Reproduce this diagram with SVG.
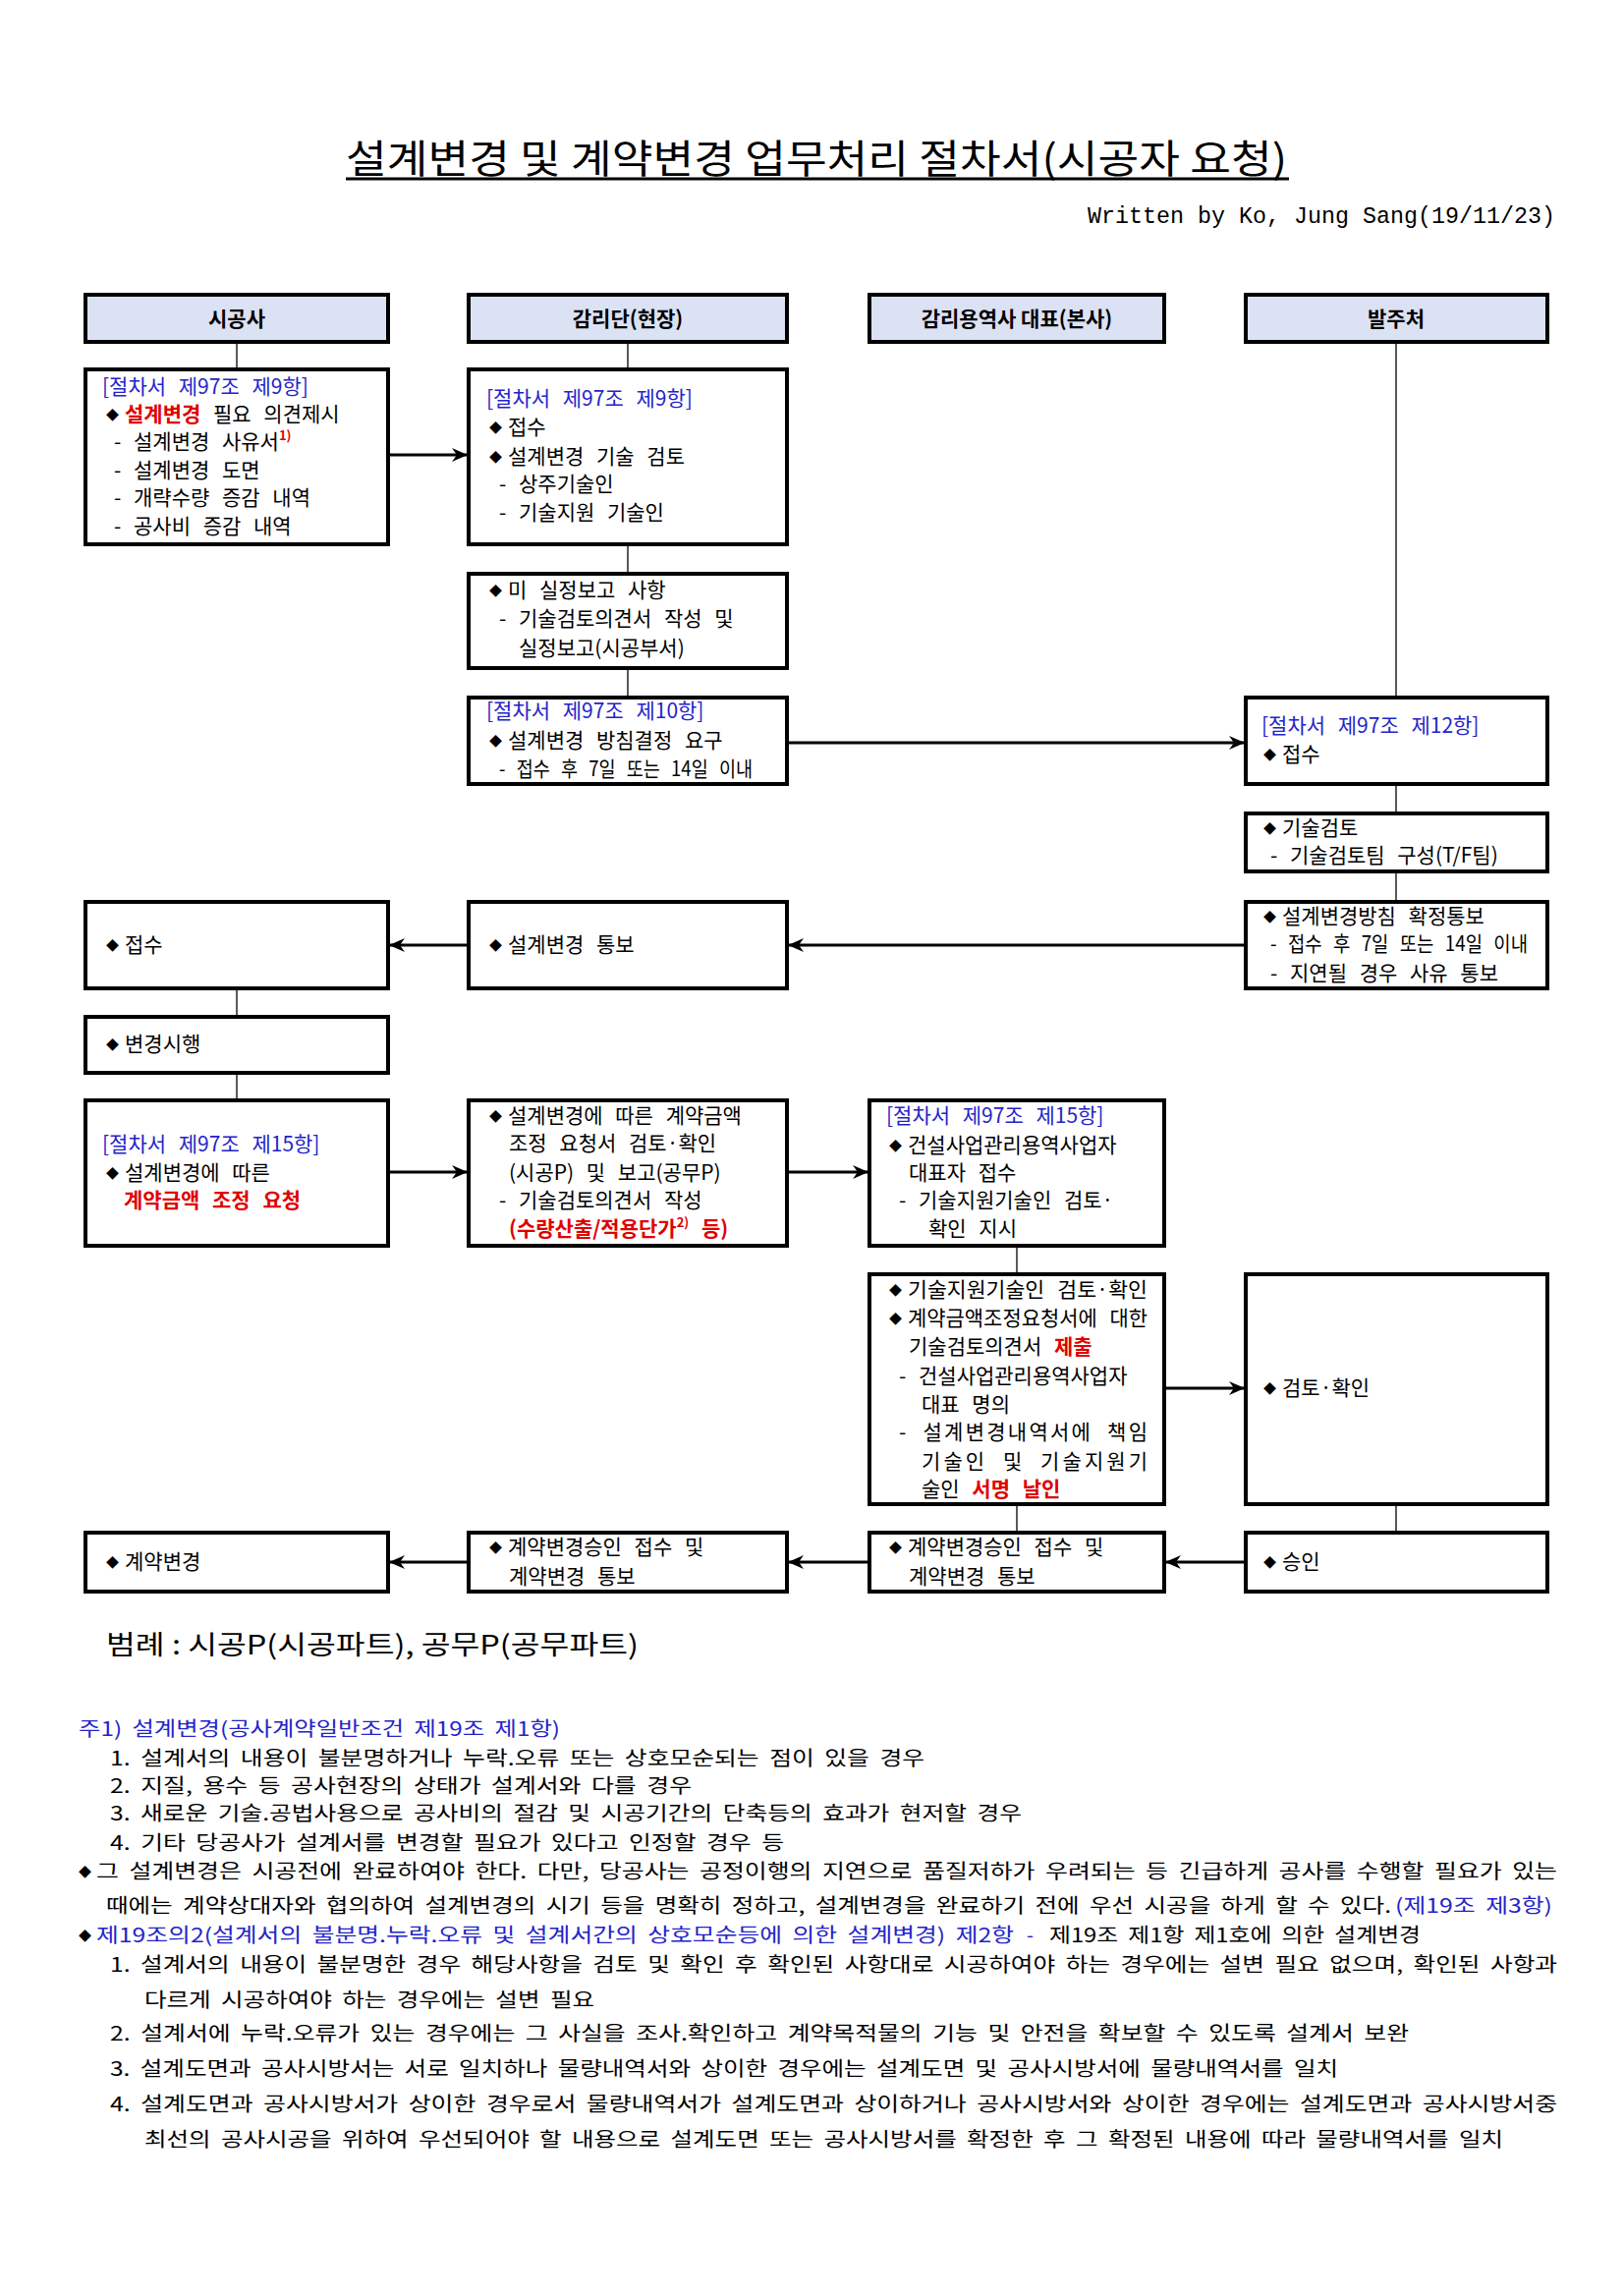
<svg xmlns="http://www.w3.org/2000/svg" width="1653" height="2337" viewBox="0 0 1653 2337">
<defs>
<marker id="ah" viewBox="0 0 16 16" refX="15" refY="8" markerWidth="16" markerHeight="16" markerUnits="userSpaceOnUse" orient="auto">
<path d="M0,1 L16,8 L0,15 L5,8 Z" fill="#000"/>
</marker>
<style>
text{font-family:"Noto Sans CJK KR","Noto Sans",sans-serif;fill:#000}
.t{font-size:21px;word-spacing:8px}
.h{font-size:21px;font-weight:bold;text-anchor:middle}
.n{font-size:20px;word-spacing:4px}
.bl{fill:#2424c8}
.rd{fill:#e00000;font-weight:bold}
.bu{font-size:13px}
.box{fill:#fff;stroke:#000;stroke-width:4}
.hd{fill:#dbe2f4;stroke:#000;stroke-width:4}
.vl{stroke:#000;stroke-width:1.3;fill:none}
.ar{stroke:#000;stroke-width:3;fill:none;marker-end:url(#ah)}
</style>
</defs>
<rect width="1653" height="2337" fill="#fff"/>

<g id="title">
<text x="352" y="176" font-size="40" textLength="958" lengthAdjust="spacingAndGlyphs">설계변경 및 계약변경 업무처리 절차서(시공자 요청)</text>
<line x1="352" y1="182" x2="1312" y2="182" stroke="#000" stroke-width="3"/>
<text x="1107" y="227" font-size="24" style="font-family:'Liberation Mono',monospace" textLength="476" lengthAdjust="spacingAndGlyphs">Written by Ko, Jung Sang(19/11/23)</text>
</g>

<g id="connectors">
<line class="vl" x1="241" y1="348" x2="241" y2="376"/>
<line class="vl" x1="241" y1="1006" x2="241" y2="1035"/>
<line class="vl" x1="241" y1="1092" x2="241" y2="1120"/>
<line class="vl" x1="639" y1="348" x2="639" y2="376"/>
<line class="vl" x1="639" y1="554" x2="639" y2="584"/>
<line class="vl" x1="639" y1="680" x2="639" y2="710"/>
<line class="vl" x1="1035" y1="1268" x2="1035" y2="1297"/>
<line class="vl" x1="1035" y1="1531" x2="1035" y2="1560"/>
<line class="vl" x1="1421" y1="348" x2="1421" y2="710"/>
<line class="vl" x1="1421" y1="798" x2="1421" y2="828"/>
<line class="vl" x1="1421" y1="887" x2="1421" y2="918"/>
<line class="vl" x1="1421" y1="1531" x2="1421" y2="1560"/>
<line class="ar" x1="397" y1="463" x2="475" y2="463"/>
<line class="ar" x1="803" y1="756" x2="1266" y2="756"/>
<line class="ar" x1="1266" y1="962" x2="803" y2="962"/>
<line class="ar" x1="475" y1="962" x2="397" y2="962"/>
<line class="ar" x1="397" y1="1193" x2="475" y2="1193"/>
<line class="ar" x1="803" y1="1193" x2="883" y2="1193"/>
<line class="ar" x1="1187" y1="1413" x2="1266" y2="1413"/>
<line class="ar" x1="1266" y1="1590" x2="1187" y2="1590"/>
<line class="ar" x1="883" y1="1590" x2="803" y2="1590"/>
<line class="ar" x1="475" y1="1590" x2="397" y2="1590"/>
</g>

<g id="h1"><rect class="hd" x="87" y="300" width="308" height="48"/><text class="h" x="241" y="332">시공사</text></g>
<g id="h2"><rect class="hd" x="477" y="300" width="324" height="48"/><text class="h" x="639" y="332">감리단(현장)</text></g>
<g id="h3"><rect class="hd" x="885" y="300" width="300" height="48"/><text class="h" x="1035" y="332">감리용역사 대표(본사)</text></g>
<g id="h4"><rect class="hd" x="1268" y="300" width="307" height="48"/><text class="h" x="1421" y="332">발주처</text></g>

<g id="n1">
<rect class="box" x="87" y="376" width="308" height="178"/>
<text class="t bl" x="104" y="401">[절차서 제97조 제9항]</text>
<text class="t bu" x="108" y="427">◆</text>
<text class="t" x="127" y="429"><tspan class="rd">설계변경</tspan> 필요 의견제시</text>
<text class="t" x="116" y="457">- 설계변경 사유서<tspan class="rd" font-size="13" dy="-9">1)</tspan></text>
<text class="t" x="116" y="486">- 설계변경 도면</text>
<text class="t" x="116" y="514">- 개략수량 증감 내역</text>
<text class="t" x="116" y="543">- 공사비 증감 내역</text>
</g>

<g id="n2">
<rect class="box" x="477" y="376" width="324" height="178"/>
<text class="t bl" x="495" y="413">[절차서 제97조 제9항]</text>
<text class="t bu" x="498" y="440">◆</text>
<text class="t" x="517" y="442">접수</text>
<text class="t bu" x="498" y="470">◆</text>
<text class="t" x="517" y="472">설계변경 기술 검토</text>
<text class="t" x="508" y="500">- 상주기술인</text>
<text class="t" x="508" y="529">- 기술지원 기술인</text>
</g>

<g id="n3">
<rect class="box" x="477" y="584" width="324" height="96"/>
<text class="t bu" x="498" y="606">◆</text>
<text class="t" x="517" y="608">미 실정보고 사항</text>
<text class="t" x="508" y="637">- 기술검토의견서 작성 및</text>
<text class="t" x="528" y="667">실정보고(시공부서)</text>
</g>

<g id="n4">
<rect class="box" x="477" y="710" width="324" height="88"/>
<text class="t bl" x="495" y="731">[절차서 제97조 제10항]</text>
<text class="t bu" x="498" y="759">◆</text>
<text class="t" x="517" y="761">설계변경 방침결정 요구</text>
<text class="t" x="508" y="790" textLength="258" lengthAdjust="spacingAndGlyphs">- 접수 후 7일 또는 14일 이내</text>
</g>

<g id="n5">
<rect class="box" x="1268" y="710" width="307" height="88"/>
<text class="t bl" x="1284" y="746">[절차서 제97조 제12항]</text>
<text class="t bu" x="1286" y="773">◆</text>
<text class="t" x="1305" y="775">접수</text>
</g>

<g id="n6">
<rect class="box" x="1268" y="828" width="307" height="59"/>
<text class="t bu" x="1286" y="848">◆</text>
<text class="t" x="1305" y="850">기술검토</text>
<text class="t" x="1293" y="878">- 기술검토팀 구성(T/F팀)</text>
</g>

<g id="n7">
<rect class="box" x="1268" y="918" width="307" height="88"/>
<text class="t bu" x="1286" y="938">◆</text>
<text class="t" x="1305" y="940">설계변경방침 확정통보</text>
<text class="t" x="1293" y="968" textLength="262" lengthAdjust="spacingAndGlyphs">- 접수 후 7일 또는 14일 이내</text>
<text class="t" x="1293" y="998">- 지연될 경우 사유 통보</text>
</g>

<g id="n8">
<rect class="box" x="87" y="918" width="308" height="88"/>
<text class="t bu" x="108" y="967">◆</text>
<text class="t" x="127" y="969">접수</text>
</g>

<g id="n9">
<rect class="box" x="477" y="918" width="324" height="88"/>
<text class="t bu" x="498" y="967">◆</text>
<text class="t" x="517" y="969">설계변경 통보</text>
</g>

<g id="n10">
<rect class="box" x="87" y="1035" width="308" height="57"/>
<text class="t bu" x="108" y="1068">◆</text>
<text class="t" x="127" y="1070">변경시행</text>
</g>

<g id="n11">
<rect class="box" x="87" y="1120" width="308" height="148"/>
<text class="t bl" x="104" y="1172">[절차서 제97조 제15항]</text>
<text class="t bu" x="108" y="1199">◆</text>
<text class="t" x="127" y="1201">설계변경에 따른</text>
<text class="t rd" x="126" y="1229">계약금액 조정 요청</text>
</g>

<g id="n12">
<rect class="box" x="477" y="1120" width="324" height="148"/>
<text class="t bu" x="498" y="1141">◆</text>
<text class="t" x="517" y="1143">설계변경에 따른 계약금액</text>
<text class="t" x="518" y="1171">조정 요청서 검토·확인</text>
<text class="t" x="518" y="1201">(시공P) 및 보고(공무P)</text>
<text class="t" x="508" y="1229">- 기술검토의견서 작성</text>
<text class="t rd" x="518" y="1258">(수량산출/적용단가<tspan font-size="13" dy="-9">2)</tspan><tspan dy="9"> 등)</tspan></text>
</g>

<g id="n13">
<rect class="box" x="885" y="1120" width="300" height="148"/>
<text class="t bl" x="902" y="1143">[절차서 제97조 제15항]</text>
<text class="t bu" x="905" y="1171">◆</text>
<text class="t" x="924" y="1173">건설사업관리용역사업자</text>
<text class="t" x="925" y="1201">대표자 접수</text>
<text class="t" x="915" y="1229">- 기술지원기술인 검토·</text>
<text class="t" x="945" y="1258">확인 지시</text>
</g>

<g id="n14">
<rect class="box" x="885" y="1297" width="300" height="234"/>
<text class="t bu" x="905" y="1318">◆</text>
<text class="t" x="924" y="1320" textLength="244" lengthAdjust="spacingAndGlyphs">기술지원기술인 검토·확인</text>
<text class="t bu" x="905" y="1347">◆</text>
<text class="t" x="924" y="1349" textLength="244" lengthAdjust="spacingAndGlyphs">계약금액조정요청서에 대한</text>
<text class="t" x="925" y="1378">기술검토의견서 <tspan class="rd">제출</tspan></text>
<text class="t" x="915" y="1408">- 건설사업관리용역사업자</text>
<text class="t" x="938" y="1437">대표 명의</text>
<text class="t" x="915" y="1465" textLength="253" lengthAdjust="spacing">- 설계변경내역서에 책임</text>
<text class="t" x="938" y="1495" textLength="230" lengthAdjust="spacing">기술인 및 기술지원기</text>
<text class="t" x="938" y="1523">술인 <tspan class="rd">서명 날인</tspan></text>
</g>

<g id="n15">
<rect class="box" x="1268" y="1297" width="307" height="234"/>
<text class="t bu" x="1286" y="1418">◆</text>
<text class="t" x="1305" y="1420">검토·확인</text>
</g>

<g id="n16">
<rect class="box" x="87" y="1560" width="308" height="60"/>
<text class="t bu" x="108" y="1595">◆</text>
<text class="t" x="127" y="1597">계약변경</text>
</g>

<g id="n17">
<rect class="box" x="477" y="1560" width="324" height="60"/>
<text class="t bu" x="498" y="1580">◆</text>
<text class="t" x="517" y="1582">계약변경승인 접수 및</text>
<text class="t" x="518" y="1612">계약변경 통보</text>
</g>

<g id="n18">
<rect class="box" x="885" y="1560" width="300" height="60"/>
<text class="t bu" x="905" y="1580">◆</text>
<text class="t" x="924" y="1582">계약변경승인 접수 및</text>
<text class="t" x="925" y="1612">계약변경 통보</text>
</g>

<g id="n19">
<rect class="box" x="1268" y="1560" width="307" height="60"/>
<text class="t bu" x="1286" y="1595">◆</text>
<text class="t" x="1305" y="1597">승인</text>
</g>

<g id="legend">
<text x="108" y="1684" font-size="27" textLength="542" lengthAdjust="spacingAndGlyphs">범례 : 시공P(시공파트), 공무P(공무파트)</text>
</g>

<g id="notes">
<text class="n bl" x="80" y="1767" textLength="490" lengthAdjust="spacingAndGlyphs">주1) 설계변경(공사계약일반조건 제19조 제1항)</text>
<text class="n" x="112" y="1797" textLength="829" lengthAdjust="spacingAndGlyphs">1. 설계서의 내용이 불분명하거나 누락.오류 또는 상호모순되는 점이 있을 경우</text>
<text class="n" x="112" y="1825" textLength="592" lengthAdjust="spacingAndGlyphs">2. 지질, 용수 등 공사현장의 상태가 설계서와 다를 경우</text>
<text class="n" x="112" y="1853" textLength="928" lengthAdjust="spacingAndGlyphs">3. 새로운 기술.공법사용으로 공사비의 절감 및 시공기간의 단축등의 효과가 현저할 경우</text>
<text class="n" x="112" y="1883" textLength="686" lengthAdjust="spacingAndGlyphs">4. 기타 당공사가 설계서를 변경할 필요가 있다고 인정할 경우 등</text>
<text class="n bu" x="80" y="1910">◆</text>
<text class="n" x="98" y="1912" textLength="1487" lengthAdjust="spacingAndGlyphs">그 설계변경은 시공전에 완료하여야 한다. 다만, 당공사는 공정이행의 지연으로 품질저하가 우려되는 등 긴급하게 공사를 수행할 필요가 있는</text>
<text class="n" x="108" y="1947" textLength="1308" lengthAdjust="spacingAndGlyphs">때에는 계약상대자와 협의하여 설계변경의 시기 등을 명확히 정하고, 설계변경을 완료하기 전에 우선 시공을 하게 할 수 있다.</text>
<text class="n bl" x="1420" y="1947" textLength="160" lengthAdjust="spacingAndGlyphs">(제19조 제3항)</text>
<text class="n bu" x="80" y="1975">◆</text>
<text class="n bl" x="98" y="1977" textLength="934" lengthAdjust="spacingAndGlyphs">제19조의2(설계서의 불분명.누락.오류 및 설계서간의 상호모순등에 의한 설계변경) 제2항</text>
<text class="n bl" x="1045" y="1977">-</text>
<text class="n" x="1068" y="1977" textLength="378" lengthAdjust="spacingAndGlyphs">제19조 제1항 제1호에 의한 설계변경</text>
<text class="n" x="112" y="2007" textLength="1473" lengthAdjust="spacingAndGlyphs">1. 설계서의 내용이 불분명한 경우 해당사항을 검토 및 확인 후 확인된 사항대로 시공하여야 하는 경우에는 설변 필요 없으며, 확인된 사항과</text>
<text class="n" x="147" y="2043" textLength="458" lengthAdjust="spacingAndGlyphs">다르게 시공하여야 하는 경우에는 설변 필요</text>
<text class="n" x="112" y="2077" textLength="1322" lengthAdjust="spacingAndGlyphs">2. 설계서에 누락.오류가 있는 경우에는 그 사실을 조사.확인하고 계약목적물의 기능 및 안전을 확보할 수 있도록 설계서 보완</text>
<text class="n" x="112" y="2113" textLength="1250" lengthAdjust="spacingAndGlyphs">3. 설계도면과 공사시방서는 서로 일치하나 물량내역서와 상이한 경우에는 설계도면 및 공사시방서에 물량내역서를 일치</text>
<text class="n" x="112" y="2149" textLength="1473" lengthAdjust="spacingAndGlyphs">4. 설계도면과 공사시방서가 상이한 경우로서 물량내역서가 설계도면과 상이하거나 공사시방서와 상이한 경우에는 설계도면과 공사시방서중</text>
<text class="n" x="147" y="2185" textLength="1383" lengthAdjust="spacingAndGlyphs">최선의 공사시공을 위하여 우선되어야 할 내용으로 설계도면 또는 공사시방서를 확정한 후 그 확정된 내용에 따라 물량내역서를 일치</text>
</g>
</svg>
